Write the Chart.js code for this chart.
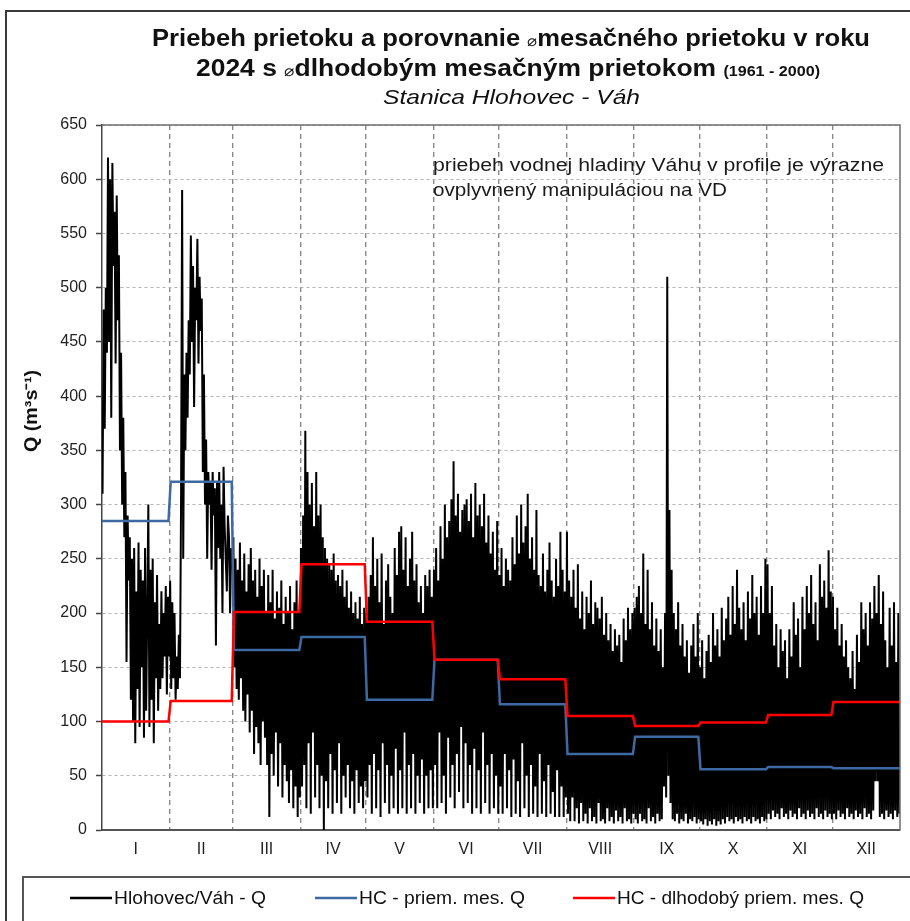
<!DOCTYPE html>
<html>
<head>
<meta charset="utf-8">
<script src="https://cdn.jsdelivr.net/npm/chart.js@4.4.1/dist/chart.umd.min.js"></script>
<style>
html,body{margin:0;padding:0;background:#fff}
canvas{display:block}
</style>
</head>
<body>
<canvas id="flowChart" width="910" height="921"></canvas>
<script>
// months of 2024 (leap year), day offsets of month starts
const monthLabels=["I","II","III","IV","V","VI","VII","VIII","IX","X","XI","XII"];
const monthStarts=[0,31,60,91,121,152,182,213,244,274,305,335,366];
const yMin=0, yMax=650, yStep=50;

// HC - priem. mes. Q (2024) and HC - dlhodobý priem. mes. Q (1961-2000)
const monthlyMean=[285,321,166,178,120,157,116,70,86,56,58,57];
const longTermMean=[100,119,201,245,192,157,139,105,96,99,106,118];

// Hlohovec/Váh - Q, read month by month (alternating highs / lows)
const qJan=[310,480,370,500,440,620,450,600,380,615,520,570,430,585,470,530,350,440,300,380,270,330,155,290,230,270,120,250,100,260,80,220,130,265,95,240,150,230,85,260,110,200,300,95,240,120,250,80,210,140,235,110,190,130,220,140,200,160,225,125,215,160];
const qFeb=[230,130,210,140,200,120,160,130,180,140,300,590,250,420,350,440,380,470,420,548,450,520,390,500,470,545,430,510,460,490,330,420,300,360,250,330,300,320,240,330,290,315,170,320,260,330,250,300,200,335,280,250,220,290,270,200,260,240];
const qMar=[270,150,250,130,240,120,265,140,230,110,255,100,220,125,245,90,260,110,230,70,240,95,215,80,250,60,225,100,240,85,200,60,235,12,210,70,240,50,195,90,220,40,205,80,230,30,190,60,215,45,200,25,225,55,185,20,210,40,230,12,200,30];
const qApr=[260,40,290,60,368,20,330,80,300,15,320,90,280,30,330,60,290,20,300,50,270,0,260,45,250,20,245,70,240,15,255,55,230,25,235,80,225,15,240,50,215,30,230,60,205,20,220,45,200,15,210,55,195,25,215,40,190,20,205,45];
const qMay=[200,30,215,60,235,15,270,70,225,20,250,55,210,12,255,80,190,25,230,60,245,15,215,50,200,20,260,75,235,15,275,55,280,20,240,90,270,15,225,60,250,20,275,70,230,15,245,50,210,25,225,65,200,15,235,50,225,20,240,55,215,20];
const qJun=[240,60,260,20,230,90,280,25,250,50,300,15,270,85,285,30,305,60,340,20,290,70,310,35,275,95,295,20,300,80,305,25,285,60,310,15,270,75,320,20,290,55,300,15,280,90,310,25,265,60,290,15,255,70,275,20,240,50,285,15];
const qJul=[235,40,260,15,225,70,250,20,240,55,230,12,270,65,245,15,290,45,255,12,300,80,265,20,280,50,310,12,250,60,270,15,240,40,295,12,235,70,225,15,255,45,220,12,240,60,265,15,230,35,215,12,250,55,225,12,275,40,240,12,220,30];
const qAug=[275,15,230,8,215,30,240,8,205,20,245,6,195,25,220,8,185,15,215,6,200,20,230,8,190,12,210,6,205,25,195,8,215,10,180,6,200,20,175,8,190,12,165,6,185,18,170,8,180,12,155,6,195,20,175,8,205,10,185,6,200,15];
const qSep=[205,10,215,6,225,15,200,8,255,10,190,6,240,20,185,8,210,12,170,6,195,15,165,8,185,10,150,40,200,30,510,50,295,25,240,10,200,8,185,15,210,6,170,10,190,8,160,15,175,6,145,10,170,8,190,12,160,6,200,10];
const qOct=[150,8,175,5,140,10,165,4,180,8,155,5,200,10,170,4,185,8,160,5,205,10,175,6,195,12,215,8,180,10,225,6,190,12,240,8,205,10,185,6,210,12,175,8,220,10,195,6,235,12,200,8,215,10,180,6,225,12,200,8,250,10];
const qNov=[245,15,200,10,225,18,170,12,190,15,150,10,185,20,165,12,175,15,140,10,185,18,160,12,210,15,180,10,195,20,150,12,215,15,185,10,225,18,200,12,235,15,190,10,210,20,175,12,245,15,215,10,230,18,205,12,258,15,220,10];
const qDec=[215,15,185,10,205,18,170,12,190,15,160,10,175,20,150,12,140,15,165,10,130,18,180,12,155,15,210,10,185,20,200,12,170,15,210,10,195,18,225,45,200,45,235,12,190,15,220,10,175,18,150,12,205,15,170,10,210,18,155,12,200,15];
const qMonths=[qJan,qFeb,qMar,qApr,qMay,qJun,qJul,qAug,qSep,qOct,qNov,qDec];

const FONT="'Liberation Sans', Arial, Helvetica, sans-serif";

// spread each month's readings evenly across its days
function dailySeries(){
  const pts=[];
  qMonths.forEach((vals,m)=>{
    const s=monthStarts[m], len=monthStarts[m+1]-s;
    vals.forEach((v,i)=>pts.push({x:s+(i+0.5)*len/vals.length,y:v}));
  });
  return pts;
}
function stepSeries(vals){
  const pts=[];
  vals.forEach((v,m)=>{
    const a=m===0?0:monthStarts[m]+0.5;
    const b=m===11?366:monthStarts[m+1]-0.5;
    pts.push({x:a,y:v},{x:b,y:v});
  });
  return pts;
}

const midTicks=monthLabels.map((l,i)=>(monthStarts[i]+monthStarts[i+1])/2);

// text line made of differently styled parts, squeezed/stretched horizontally to a width
function drawParts(ctx,parts,x0,base,target){
  let total=0;
  const fonts=parts.map(p=>`${p.st||""} ${p.w||""} ${p.s}px ${FONT}`);
  parts.forEach((p,i)=>{ctx.font=fonts[i];total+=ctx.measureText(p.t).width;});
  ctx.save();
  ctx.translate(x0,base);
  ctx.scale(target/total,1);
  let x=0;
  parts.forEach((p,i)=>{
    ctx.font=fonts[i];
    ctx.fillText(p.t,x,0);
    x+=ctx.measureText(p.t).width;
  });
  ctx.restore();
}

const decorPlugin={
  id:"decor",
  afterDraw(chart){
    const ctx=chart.ctx, a=chart.chartArea;
    ctx.save();
    // outer frame
    ctx.strokeStyle="#3a3a3a"; ctx.lineWidth=2;
    ctx.beginPath(); ctx.moveTo(6,925); ctx.lineTo(6,11); ctx.lineTo(915,11); ctx.stroke();
    // plot border top/right
    ctx.strokeStyle="#6e6e6e"; ctx.lineWidth=1.5;
    ctx.beginPath(); ctx.moveTo(a.left,a.top); ctx.lineTo(a.right,a.top); ctx.lineTo(a.right,a.bottom); ctx.stroke();

    // titles
    ctx.fillStyle="#111"; ctx.textBaseline="alphabetic"; ctx.textAlign="left";
    drawParts(ctx,[{t:"Priebeh prietoku a porovnanie ",w:"bold",s:23},{t:"⌀",s:15},{t:"mesačného prietoku v roku",w:"bold",s:23}],152,46,718);
    drawParts(ctx,[{t:"2024 s ",w:"bold",s:23},{t:"⌀",s:15},{t:"dlhodobým mesačným prietokom ",w:"bold",s:23},{t:"(1961 - 2000)",w:"bold",s:14}],196,76,624);
    drawParts(ctx,[{t:"Stanica Hlohovec - Váh",st:"italic",s:21}],383,104,257);

    // note
    ctx.fillStyle="#1a1a1a";
    drawParts(ctx,[{t:"priebeh vodnej hladiny Váhu v profile je výrazne",s:17.5}],433,171,451);
    drawParts(ctx,[{t:"ovplyvnený manipuláciou na VD",s:17.5}],433,196,294);

    // y axis title
    ctx.save();
    ctx.translate(37,452); ctx.rotate(-Math.PI/2);
    ctx.fillStyle="#111";
    drawParts(ctx,[{t:"Q (m³s⁻¹)",w:"bold",s:18}],0,0,82);
    ctx.restore();

    // legend box
    ctx.strokeStyle="#555"; ctx.lineWidth=2;
    ctx.strokeRect(23,877,900,60);
    const lx=[70,315,573], tw=[152,166,247];
    ctx.fillStyle="#111";
    chart.data.datasets.forEach((d,i)=>{
      ctx.strokeStyle=d.borderColor; ctx.lineWidth=2.5;
      ctx.beginPath(); ctx.moveTo(lx[i],898); ctx.lineTo(lx[i]+42,898); ctx.stroke();
      drawParts(ctx,[{t:d.label,s:18}],lx[i]+44,904,tw[i]);
    });
    ctx.restore();
  }
};

new Chart(document.getElementById("flowChart"),{
  type:"line",
  data:{
    datasets:[
      {label:"Hlohovec/Váh - Q",data:dailySeries(),borderColor:"#000000",borderWidth:2,pointRadius:0,tension:0,order:3},
      {label:"HC - priem. mes. Q",data:stepSeries(monthlyMean),borderColor:"#3d6aa3",borderWidth:2.5,pointRadius:0,tension:0,order:2},
      {label:"HC - dlhodobý priem. mes. Q",data:stepSeries(longTermMean),borderColor:"#ff0000",borderWidth:2.5,pointRadius:0,tension:0,order:1}
    ]
  },
  options:{
    responsive:false,
    animation:false,
    parsing:false,
    layout:{padding:{left:0,top:125,right:7,bottom:46}},
    plugins:{legend:{display:false},tooltip:{enabled:false}},
    scales:{
      x:{
        type:"linear",min:0,max:366,
        afterBuildTicks(scale){
          scale.ticks=[...monthStarts,...midTicks].sort((p,q)=>p-q).map(v=>({value:v}));
        },
        afterFit(scale){scale.height=45;},
        ticks:{
          autoSkip:false,maxRotation:0,padding:10,color:"#222",
          font:{family:FONT,size:16},
          callback(v){const i=midTicks.indexOf(v);return i<0?"":monthLabels[i];}
        },
        grid:{
          drawTicks:false,lineWidth:1.4,
          color(ctx){const v=ctx.tick&&ctx.tick.value;return (monthStarts.includes(v)&&v>0&&v<366)?"#8a8a8a":"rgba(0,0,0,0)";}
        },
        border:{display:true,color:"#555",width:2,dash:[5,4]}
      },
      y:{
        min:yMin,max:yMax,
        afterFit(scale){scale.width=102;},
        ticks:{stepSize:yStep,padding:9,color:"#222",font:{family:FONT,size:16}},
        grid:{color:"#b4b4b4",lineWidth:1,tickColor:"#444",tickLength:6,tickWidth:1.5,tickBorderDash:[]},
        border:{display:true,color:"#444",width:1.5,dash:[3,3]}
      }
    }
  },
  plugins:[decorPlugin]
});
</script>
</body>
</html>
